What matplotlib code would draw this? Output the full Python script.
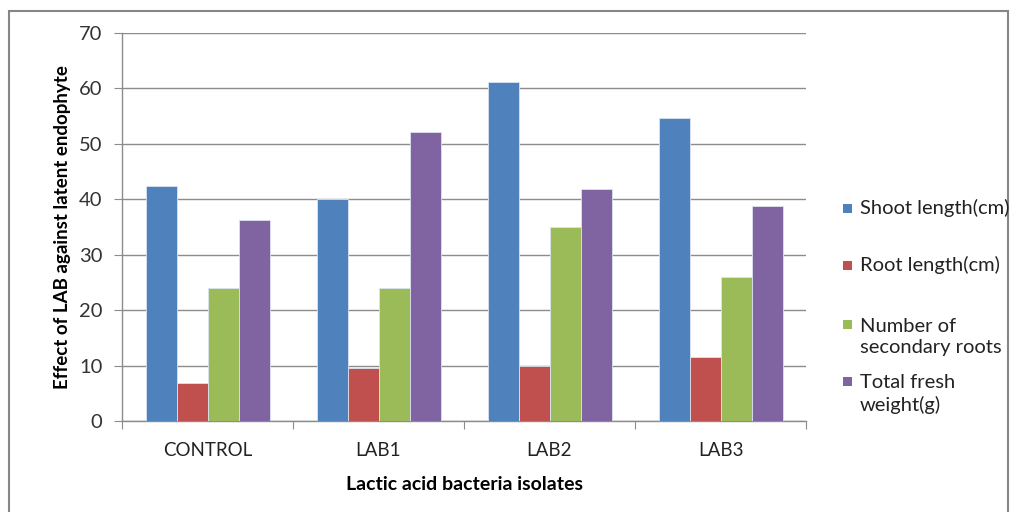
import numpy as np
import matplotlib.pyplot as plt
from matplotlib.patches import Rectangle

# Werte je Isolat
isolates = ["CONTROL", "LAB1", "LAB2", "LAB3"]
shoot_length = [42.4, 40.0, 61.2, 54.6]
root_length = [6.9, 9.5, 10.0, 11.5]
secondary_roots = [24.0, 24.0, 35.0, 26.0]
fresh_weight = [36.3, 52.1, 41.9, 38.8]

series_labels = ["Shoot length(cm)", "Root length(cm)",
                 "Number of\nsecondary roots", "Total fresh\nweight(g)"]
series_colors = ["#4F81BD", "#C0504D", "#9BBB59", "#8064A2"]
y_ticks = [0, 10, 20, 30, 40, 50, 60, 70]

plt.rcParams["font.family"] = ["Lato", "DejaVu Sans"]

W, H = 1018, 512
fig = plt.figure(figsize=(W / 100, H / 100), dpi=100)
fig.patch.set_facecolor("white")

# grauer Rahmen um das Diagramm
fig.patches.append(Rectangle((9 / W, 1 - 600 / H), (1008 - 9) / W, (600 - 11) / H,
                             transform=fig.transFigure, fill=False,
                             edgecolor="#868686", linewidth=1.5))

ax = fig.add_axes([122 / W, 1 - 421 / H, (806 - 122) / W, (421 - 33) / H])

all_series = [shoot_length, root_length, secondary_roots, fresh_weight]
x = np.arange(len(isolates))
bar_w = 31 / 171
for i, (vals, col) in enumerate(zip(all_series, series_colors)):
    offs = (i - 1.5) * bar_w
    ax.bar(x + offs, vals, width=bar_w, color=col, edgecolor="#dbe3ef",
           linewidth=0.6, zorder=3)

ax.set_xlim(-0.5, len(isolates) - 0.5)
ax.set_ylim(0, 70)
ax.set_yticks(y_ticks)
ax.set_yticklabels([str(t) for t in y_ticks], fontsize=14.5, color="#333333")
ax.yaxis.grid(True, color="#8c8c8c", linewidth=1.0, zorder=0)

# Hauptticks an den Gruppengrenzen, Beschriftung in der Mitte
ax.set_xticks(np.arange(-0.5, len(isolates), 1.0))
ax.set_xticklabels([])
ax.set_xticks(x, minor=True)
ax.set_xticklabels(isolates, minor=True, fontsize=13.5, color="#222222")
ax.tick_params(axis="x", which="major", length=6, color="#8c8c8c", direction="out")
ax.tick_params(axis="x", which="minor", length=0, pad=15)
ax.tick_params(axis="y", length=6, color="#8c8c8c", pad=8)

for side in ("top", "right"):
    ax.spines[side].set_visible(False)
for side in ("left", "bottom"):
    ax.spines[side].set_color("#8c8c8c")
    ax.spines[side].set_linewidth(1.0)

ax.set_xlabel("Lactic acid bacteria isolates", fontsize=14, fontweight="bold",
              labelpad=12)
ax.set_ylabel("Effect of LAB against latent endophyte", fontsize=13.5,
              fontweight="bold", labelpad=6)

# Legende rechts neben dem Diagramm
legend_y = [208, 265, 337, 394]
for lab, col, yy in zip(series_labels, series_colors, legend_y):
    first_line = yy - (13 if "\n" in lab else 0)
    fig.patches.append(Rectangle((843 / W, 1 - (first_line + 5) / H), 9 / W, 9 / H,
                                 transform=fig.transFigure, facecolor=col,
                                 edgecolor="none"))
    fig.text(860 / W, 1 - yy / H, lab, fontsize=14.5, color="#222222",
             ha="left", va="center", linespacing=1.3)

fig.savefig("out.png", dpi=100)
